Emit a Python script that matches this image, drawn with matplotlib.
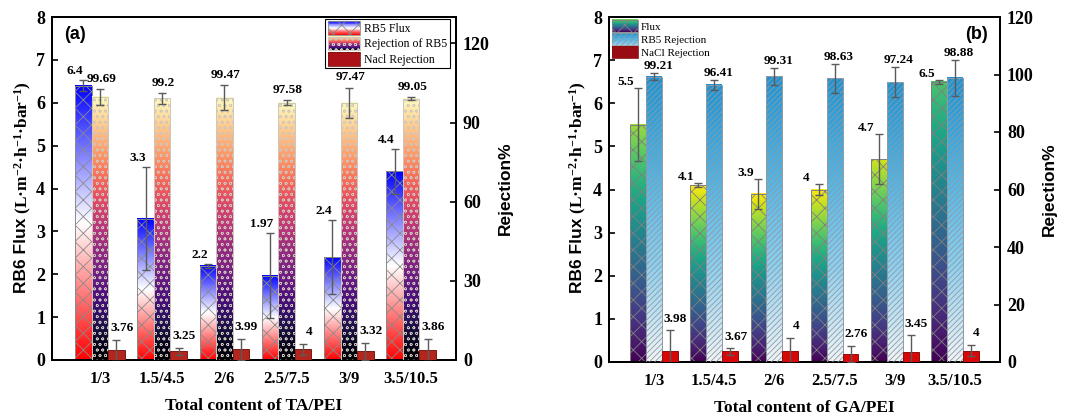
import numpy as np
import matplotlib
matplotlib.use("Agg")
import matplotlib.pyplot as plt
from matplotlib.colors import LinearSegmentedColormap
from matplotlib.patches import Rectangle
from matplotlib.legend_handler import HandlerBase

# ---------------- data ----------------
categories = ['1/3', '1.5/4.5', '2/6', '2.5/7.5', '3/9', '3.5/10.5']

a_flux = [6.4, 3.3, 2.2, 1.97, 2.4, 4.4]
a_flux_err = [0.13, 1.2, 0.05, 1.0, 0.87, 0.53]
a_rej = [99.69, 99.2, 99.47, 97.58, 97.47, 99.05]
a_rej_err = [2.9, 2.0, 4.7, 0.8, 5.8, 0.6]
a_nacl = [3.76, 3.25, 3.99, 4, 3.32, 3.86]
a_nacl_err = [4.0, 1.3, 4.1, 2.2, 3.2, 4.1]

b_flux = [5.5, 4.1, 3.9, 4, 4.7, 6.5]
b_flux_err = [0.85, 0.04, 0.35, 0.12, 0.58, 0.05]
b_rej = [99.21, 96.41, 99.31, 98.63, 97.24, 98.88]
b_rej_err = [1.2, 1.7, 2.8, 5.0, 5.2, 6.2]
b_nacl = [3.98, 3.67, 4, 2.76, 3.45, 4]
b_nacl_err = [7.0, 1.1, 4.4, 2.8, 5.8, 2.0]

a_labels = ['RB5 Flux', 'Rejection of RB5', 'Nacl Rejection']
b_labels = ['Flux', 'RB5 Rejection', 'NaCl Rejection']
a_xlabel = 'Total content of TA/PEI'
b_xlabel = 'Total content of GA/PEI'

# ---------------- style ----------------
plt.rcParams['font.family'] = ['Liberation Serif', 'DejaVu Sans']
plt.rcParams['font.weight'] = 'bold'
plt.rcParams['mathtext.fontset'] = 'custom'
plt.rcParams['mathtext.rm'] = 'Liberation Serif:bold'
plt.rcParams['mathtext.bf'] = 'Liberation Serif:bold'
plt.rcParams['mathtext.it'] = 'Liberation Serif:italic:bold'
plt.rcParams['hatch.linewidth'] = 0.6

flux_a_cmap = plt.get_cmap('bwr_r')
rej_a_cmap = plt.get_cmap('magma')
flux_b_cmap = plt.get_cmap('viridis')
rej_b_cmap = LinearSegmentedColormap.from_list('rejb', ['#f2f4f6', '#8fd0ef', '#4fb3e3', '#1f93d2'])
b_flux_top = [0.85, 1.0, 1.0, 1.0, 0.93, 0.72]   # colour fraction at bar tops (style)

err_kw = dict(fmt='none', ecolor='#5a5a5a', elinewidth=1.0, capsize=3, capthick=1.0, zorder=6)
W = 0.265


def grad_bar(ax, x, h, w, cmap, lo=0.0, hi=1.0, hatch=None, ec='#888888', hlw=0.6):
    grad = np.linspace(lo, hi, 256).reshape(-1, 1)
    ax.imshow(grad, extent=[x - w / 2, x + w / 2, 0, h], origin='lower', aspect='auto',
              cmap=cmap, vmin=0, vmax=1, zorder=2, interpolation='bilinear')
    with plt.rc_context({'hatch.linewidth': hlw}):
        ax.bar(x, h, w, facecolor='none', edgecolor=ec, hatch=hatch, linewidth=0.7, zorder=3)


class GradHandler(HandlerBase):
    def __init__(self, cmap, lo, hi, hatch, ec):
        super().__init__()
        self.cmap, self.lo, self.hi, self.hatch, self.ec = cmap, lo, hi, hatch, ec

    def create_artists(self, legend, orig_handle, xdescent, ydescent, width, height, fontsize, trans):
        arts = []
        n = 16
        for i in range(n):
            f = self.lo + (self.hi - self.lo) * (i + 0.5) / n
            arts.append(Rectangle((-xdescent, -ydescent + i * height / n), width, height / n + 0.3,
                                  facecolor=self.cmap(f), edgecolor='none', transform=trans))
        arts.append(Rectangle((-xdescent, -ydescent), width, height, facecolor='none',
                              edgecolor=self.ec, hatch=self.hatch, lw=0.6, transform=trans))
        return arts


fig = plt.figure(figsize=(10.69, 4.17), dpi=100)
W_PX, H_PX = 1069, 417


def fx(px):
    return px / W_PX


def fy(py):
    return 1 - py / H_PX


def style_axes(ax, ax2):
    for a in (ax, ax2):
        for s in a.spines.values():
            s.set_linewidth(1.4)
            s.set_color('black')
    ax.tick_params(axis='y', direction='in', length=4, width=1.2, labelsize=13, pad=5)
    ax2.tick_params(axis='y', direction='in', length=4, width=1.2, labelsize=13, pad=5)
    ax.tick_params(axis='x', length=0, labelsize=12, pad=8)


def add_ylabel(px_x, px_bottom):
    t1 = fig.text(fx(px_x), fy(px_bottom), 'RB6 Flux', rotation=90, ha='center', va='bottom',
                  family=['Liberation Sans', 'DejaVu Sans'], fontsize=12.5, fontweight='bold')
    plt.annotate(' (L·m$^{-2}$·h$^{-1}$·bar$^{-1}$)', xy=(0.6, 1.0), xycoords=t1,
                 rotation=90, ha='center', va='bottom', fontsize=12.5,
                 fontweight='bold', annotation_clip=False)


# ================= panel (a) =================
ax = fig.add_axes([fx(52), fy(360), fx(456 - 52), (360 - 17) / H_PX])
ax2 = ax.twinx()
x = np.arange(len(categories))
for i in range(len(categories)):
    grad_bar(ax, x[i] - W, a_flux[i], W, flux_a_cmap, 0.0, 1.0, hatch='xx', ec='#8a8a8a')
    grad_bar(ax2, x[i], a_rej[i], W, rej_a_cmap, 0.0, 1.0, hatch='ooo', ec='#cfc6bd', hlw=0.45)
ax2.bar(x + W, a_nacl, W, color='#b3261d', edgecolor='#7a1a14', linewidth=0.7, zorder=3)
ax.errorbar(x - W, a_flux, yerr=a_flux_err, **err_kw)
ax2.errorbar(x, a_rej, yerr=a_rej_err, **err_kw)
ax2.errorbar(x + W, a_nacl, yerr=a_nacl_err, **err_kw)

for i in range(len(categories)):
    ax.annotate(f'{a_flux[i]:g}', (x[i] - W, a_flux[i] + a_flux_err[i]), xytext=(-6, 2),
                textcoords='offset points', ha='center', va='bottom', fontsize=9.5, zorder=8)
    ax2.annotate(f'{a_rej[i]:g}', (x[i], a_rej[i] + a_rej_err[i]), xytext=(1, 3),
                 textcoords='offset points', ha='center', va='bottom', fontsize=9.5, zorder=8)
    ax2.annotate(f'{a_nacl[i]:g}', (x[i] + W, a_nacl[i] + a_nacl_err[i]), xytext=(4, 4),
                 textcoords='offset points', ha='center', va='bottom', fontsize=9.5, zorder=8)

ax.set_xlim(-0.77, 5.72)
ax.set_ylim(0, 8)
ax2.set_ylim(0, 130)
ax.set_xticks(x)
ax.set_xticklabels(categories)
ax.set_yticks(range(0, 9))
ax2.set_yticks([0, 30, 60, 90, 120])
style_axes(ax, ax2)
ax.set_xlabel(a_xlabel, fontsize=12.5, fontweight='bold', labelpad=8)
ax2.set_ylabel('Rejection%', family=['Liberation Sans', 'DejaVu Sans'], fontsize=12.5,
               fontweight='bold', labelpad=6)
ax.text(0.03, 0.95, '(a)', transform=ax.transAxes, family=['Liberation Sans', 'DejaVu Sans'],
        fontsize=13, fontweight='bold', ha='left', va='center', zorder=9)

hs = [Rectangle((0, 0), 1, 1) for _ in range(3)]
leg = ax2.legend(hs, a_labels, loc='upper right', bbox_to_anchor=(0.985, 0.995),
                 prop={'family': 'Liberation Serif', 'weight': 'normal', 'size': 8.5},
                 handler_map={hs[0]: GradHandler(flux_a_cmap, 0, 1, 'xx', '#8a8a8a'),
                              hs[1]: GradHandler(rej_a_cmap, 0, 1, 'ooo', '#cfc6bd'),
                              hs[2]: GradHandler(plt.get_cmap('Reds'), 0.85, 0.85, None, '#7a1a14')},
                 handlelength=2.7, handleheight=1.4, labelspacing=0.15, handletextpad=0.4,
                 borderpad=0.2, borderaxespad=0.0, fancybox=False, edgecolor='black', framealpha=1)
leg.get_frame().set_linewidth(0.8)
leg.set_zorder(10)
add_ylabel(22, 293)

# ================= panel (b) =================
bx = fig.add_axes([fx(609), fy(362), fx(1000 - 609), (362 - 17) / H_PX])
bx2 = bx.twinx()
for i in range(len(categories)):
    grad_bar(bx, x[i] - W, b_flux[i], W, flux_b_cmap, 0.0, b_flux_top[i], hatch='xx', ec='#808080')
    grad_bar(bx2, x[i], b_rej[i], W, rej_b_cmap, 0.0, 1.0, hatch='//////', ec='#8e9aa4')
bx2.bar(x + W, b_nacl, W, color='#d80808', edgecolor='#8a1010', linewidth=0.7, zorder=3)
bx.errorbar(x - W, b_flux, yerr=b_flux_err, **err_kw)
bx2.errorbar(x, b_rej, yerr=b_rej_err, **err_kw)
bx2.errorbar(x + W, b_nacl, yerr=b_nacl_err, **err_kw)

for i in range(len(categories)):
    bx.annotate(f'{b_flux[i]:g}', (x[i] - W, b_flux[i] + b_flux_err[i]), xytext=(-9, 0),
                textcoords='offset points', ha='center', va='bottom', fontsize=9.5, zorder=8)
    bx2.annotate(f'{b_rej[i]:g}', (x[i], b_rej[i] + b_rej_err[i]), xytext=(3, 1),
                 textcoords='offset points', ha='center', va='bottom', fontsize=9.5, zorder=8)
    bx2.annotate(f'{b_nacl[i]:g}', (x[i] + W, b_nacl[i] + b_nacl_err[i]), xytext=(4, 4),
                 textcoords='offset points', ha='center', va='bottom', fontsize=9.5, zorder=8)

bx.set_xlim(-0.75, 5.75)
bx.set_ylim(0, 8)
bx2.set_ylim(0, 120)
bx.set_xticks(x)
bx.set_xticklabels(categories)
bx.set_yticks(range(0, 9))
bx2.set_yticks(range(0, 121, 20))
style_axes(bx, bx2)
bx.set_xlabel(b_xlabel, fontsize=12.5, fontweight='bold', labelpad=8)
bx2.set_ylabel('Rejection%', family=['Liberation Sans', 'DejaVu Sans'], fontsize=12.5,
               fontweight='bold', labelpad=6)
bx.text(0.97, 0.95, '(b)', transform=bx.transAxes, family=['Liberation Sans', 'DejaVu Sans'],
        fontsize=13, fontweight='bold', ha='right', va='center', zorder=9)

hs2 = [Rectangle((0, 0), 1, 1) for _ in range(3)]
leg2 = bx2.legend(hs2, b_labels, loc='upper left', bbox_to_anchor=(0.0, 1.0),
                  prop={'family': 'Liberation Serif', 'weight': 'normal', 'size': 8},
                  handler_map={hs2[0]: GradHandler(flux_b_cmap, 0.0, 0.8, 'xx', '#808080'),
                               hs2[1]: GradHandler(rej_b_cmap, 0.3, 1.0, '//////', '#8e9aa4'),
                               hs2[2]: GradHandler(plt.get_cmap('Reds'), 0.9, 0.9, None, '#8a1010')},
                  handlelength=2.4, handleheight=1.3, labelspacing=0.1, handletextpad=0.2,
                  borderpad=0.1, borderaxespad=0.15, frameon=False)
leg2.set_zorder(10)
add_ylabel(577, 293)

fig.savefig('out.png', dpi=100)
